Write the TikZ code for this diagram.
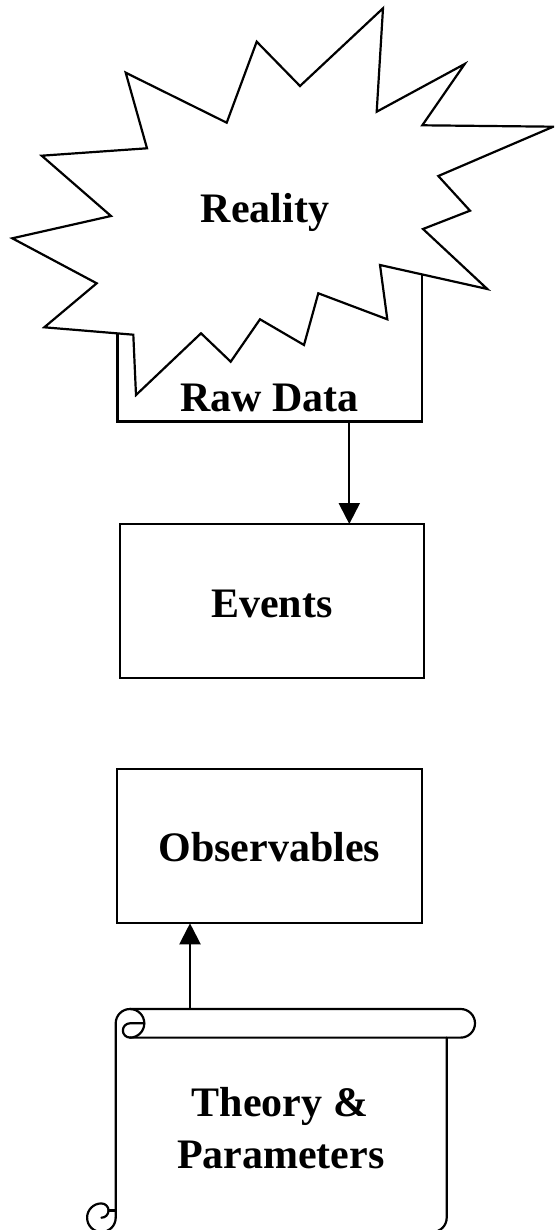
\documentclass[tikz,border=0pt]{standalone}
\usepackage{fontspec}
\setmainfont{Liberation Serif}
\usetikzlibrary{arrows.meta}
\begin{document}
\begin{tikzpicture}[x=1pt,y=-1pt,
  lbl/.style={font=\fontsize{42}{48}\selectfont\bfseries, inner sep=0pt, anchor=base},
  boxnode/.style={draw, line width=2.2pt, inner sep=0pt, outer sep=0pt},
  conn/.style={line width=2.2pt, -{Triangle[width=21pt,length=21pt]}},
  outline/.style={line width=2.2pt, line cap=round, line join=round}]
\useasboundingbox (0,0) rectangle (554,1230);
\clip (0,0) rectangle (554,1230);

% raw data frame; its upper part is covered by the burst
\node[boxnode, minimum width=304.5pt, minimum height=171.5pt] (raw) at (269.75,335.75) {};

% the burst
\draw[fill=white, line width=2.2pt, line join=miter]
  (383,8.3) -- (376.7,111.7) -- (464.7,64) -- (422.3,125.3) -- (553.3,126.7)
  -- (438.3,176) -- (470,210.7) -- (423,229) -- (487.3,289) -- (380,265)
  -- (387.3,319.3) -- (318.3,293.3) -- (304,345) -- (260,319.3) -- (230.7,361.7)
  -- (201,333.3) -- (136,395) -- (133.3,334.7) -- (44.3,327.3) -- (96.7,283.3)
  -- (12.3,238.3) -- (111,216) -- (41.7,155.7) -- (147,148.3) -- (125.7,72.7)
  -- (226.7,122.7) -- (256.7,41.7) -- (300,86) -- cycle;
\node[lbl] (reality) at (265,223) {Reality};
\node[lbl] (rawtext) at (269.5,411) {Raw Data};

% events and observables
\node[boxnode, minimum width=304.3pt, minimum height=154.3pt] (events) at (272.15,601.15) {};
\node[lbl] (eventstext) at (272,617.3) {Events};
\node[boxnode, minimum width=305.6pt, minimum height=154.3pt] (obs) at (269.5,846.15) {};
\node[lbl] (obstext) at (269.2,861.7) {Observables};

% raw data -> events
\coordinate (rawout) at (349.3,421.5);
\draw[conn] (rawout) -- (rawout |- events.north);

% the scroll
\draw[outline] (115.7,1217.7) -- (115.7,1023.3)
  arc[start angle=180, end angle=90, radius=14.3pt] -- (460.7,1009)
  arc[start angle=90, end angle=-90, radius=14.3pt] -- (130,1037.6);
\draw[outline] (130,1009) arc[start angle=90, end angle=-90, radius=14.3pt];
\draw[outline] (144.3,1023.3) -- (130,1023.3)
  arc[start angle=90, end angle=270, radius=7.15pt];
\draw[outline] (446.7,1037.6) -- (446.7,1217.7)
  arc[start angle=0, end angle=-90, radius=14.3pt] -- (101.4,1232)
  arc[start angle=270, end angle=90, radius=14.3pt]
  arc[start angle=90, end angle=-90, radius=7.15pt];
\draw[outline] (101.4,1232) arc[start angle=270, end angle=360, radius=14.3pt];
\draw[outline] (108.55,1210.55) -- (115.7,1210.55);
\node[lbl] (theory) at (280,1116.7) {Theory \&};
\node[lbl] (params) at (280.8,1168.3) {Parameters};

% theory -> observables
\coordinate (scrolltop) at (190,1009);
\draw[conn] (scrolltop) -- (scrolltop |- obs.south);
\end{tikzpicture}
\end{document}
